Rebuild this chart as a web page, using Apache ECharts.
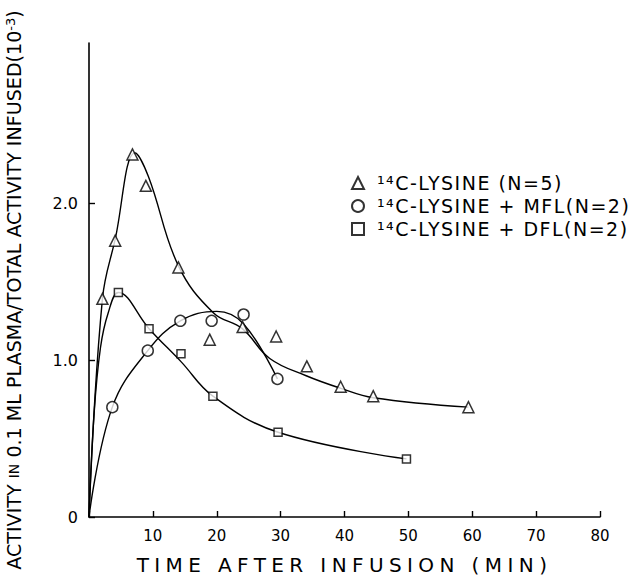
<!DOCTYPE html>
<html>
<head>
<meta charset="utf-8">
<script src="https://cdn.jsdelivr.net/npm/echarts@6/dist/echarts.min.js"></script>
<style>
html,body{margin:0;padding:0;background:#fff;}
#c{width:636px;height:580px;}
</style>
</head>
<body>
<div id="c"></div>
<script>
// ---- data ----
const xTickValues = [0, 10, 20, 30, 40, 50, 60, 70, 80];
const xLabelValues = [10, 20, 30, 40, 50, 60, 70, 80];
const yTickValues = [0, 1, 2];
const yTickLabels = ['0', '1.0', '2.0'];

const seriesNames = ['¹⁴C-LYSINE (N=5)', '¹⁴C-LYSINE + MFL(N=2)', '¹⁴C-LYSINE + DFL(N=2)'];

// measured points [time (min), activity (10^-3)]
const lysinePoints = [[2.1,1.39],[4.1,1.76],[6.8,2.31],[8.9,2.11],[14,1.59],[18.9,1.13],[24.05,1.21],[29.3,1.15],[34.1,0.96],[39.4,0.83],[44.5,0.77],[59.4,0.70]];
const mflPoints = [[3.65,0.70],[9.2,1.06],[14.3,1.25],[19.2,1.25],[24.2,1.29],[29.5,0.88]];
const dflPoints = [[4.6,1.43],[9.4,1.20],[14.4,1.04],[19.4,0.77],[29.6,0.54],[49.7,0.37]];

// hand-fitted curves
const lysineCurve = [[0,0],[2.1,1.39],[4.1,1.77],[7.2,2.32],[9.3,2.17],[14,1.60],[19.5,1.30],[24,1.20],[28.3,1.01],[34,0.90],[39.4,0.82],[44.5,0.76],[59.4,0.70]];
const mflCurve = [[0,0],[3.65,0.70],[9.2,1.06],[14.3,1.25],[20,1.31],[24.2,1.23],[29.5,0.88]];
const dflCurve = [[0,0],[0.8,0.66],[1.8,1.08],[3.0,1.30],[4.6,1.43],[9.4,1.20],[14.4,0.99],[19.4,0.77],[29.6,0.54],[49.7,0.37]];

const xName = 'TIME AFTER INFUSION (MIN)';
const FONT = 'DejaVu Sans';

const chart = echarts.init(document.getElementById('c'), null, {renderer: 'svg'});

const markerStyle = {color: '#fff', borderColor: '#000', borderWidth: 1.5};
const curveStyle = {color: '#000', width: 1.4};

function curve(name, data) {
  return {
    name: name, type: 'line', data: data, smooth: 0.4,
    showSymbol: false, symbol: 'none', lineStyle: curveStyle, z: 2, silent: true
  };
}
function points(name, data, symbol, size) {
  return {
    name: name, type: 'scatter', data: data, symbol: symbol, symbolSize: size,
    itemStyle: markerStyle, z: 5
  };
}

chart.setOption({
  animation: false,
  backgroundColor: '#fff',
  textStyle: {fontFamily: FONT, color: '#000'},
  grid: {left: 89, right: 36, top: 43, bottom: 63, outerBoundsMode: 'none', containLabel: false},
  xAxis: {
    type: 'value', min: 0, max: 80, interval: 10,
    name: xName, nameLocation: 'middle', nameGap: 38,
    nameTextStyle: {fontFamily: FONT, fontSize: 20, color: '#000'},
    axisLine: {lineStyle: {color: '#000', width: 1.6}},
    axisTick: {inside: true, length: 6, lineStyle: {color: '#000', width: 1.4}, customValues: xTickValues},
    axisLabel: {fontFamily: FONT, fontSize: 15, color: '#000', margin: 11, customValues: xLabelValues},
    splitLine: {show: false}
  },
  yAxis: {
    type: 'value', min: 0, max: 3.02, interval: 1,
    name: 'ACTIVITY {s|IN} 0.1 ML PLASMA/TOTAL ACTIVITY INFUSED(10{sup|-3})',
    nameLocation: 'middle', nameGap: 65,
    nameTextStyle: {
      fontFamily: FONT, fontSize: 19.1, color: '#000', lineHeight: 20, padding: [0, 20, 0, 0],
      rich: {
        s: {fontFamily: FONT, fontSize: 14, color: '#000', lineHeight: 20},
        sup: {fontFamily: FONT, fontSize: 13, color: '#000', verticalAlign: 'top', lineHeight: 20}
      }
    },
    axisLine: {show: true, lineStyle: {color: '#000', width: 1.6}},
    axisTick: {show: true, inside: true, length: 6, lineStyle: {color: '#000', width: 1.4}, customValues: yTickValues},
    axisLabel: {
      fontFamily: FONT, fontSize: 16, color: '#000', margin: 11, customValues: yTickValues,
      formatter: function (v) { const i = yTickValues.indexOf(v); return i >= 0 ? yTickLabels[i] : ''; }
    },
    splitLine: {show: false}
  },
  legend: {
    orient: 'vertical', left: 346, top: 167, itemGap: 1,
    itemWidth: 12, itemHeight: 12,
    data: seriesNames,
    textStyle: {fontFamily: FONT, fontSize: 19, color: '#000', lineHeight: 14, padding: [0, 0, 8, 8]}
  },
  series: [
    curve('lysineFit', lysineCurve),
    curve('mflFit', mflCurve),
    curve('dflFit', dflCurve),
    points(seriesNames[0], lysinePoints, 'triangle', 11),
    points(seriesNames[1], mflPoints, 'circle', 11),
    points(seriesNames[2], dflPoints, 'rect', 8)
  ]
});

function applySpacing() {
  document.querySelectorAll('#c text').forEach(function (t) {
    const s = t.textContent;
    if (s === xName) t.setAttribute('letter-spacing', '5.4');
    else if (seriesNames.indexOf(s) >= 0) t.setAttribute('letter-spacing', '1.5');
  });
}
chart.on('finished', applySpacing);
applySpacing();
</script>
</body>
</html>
